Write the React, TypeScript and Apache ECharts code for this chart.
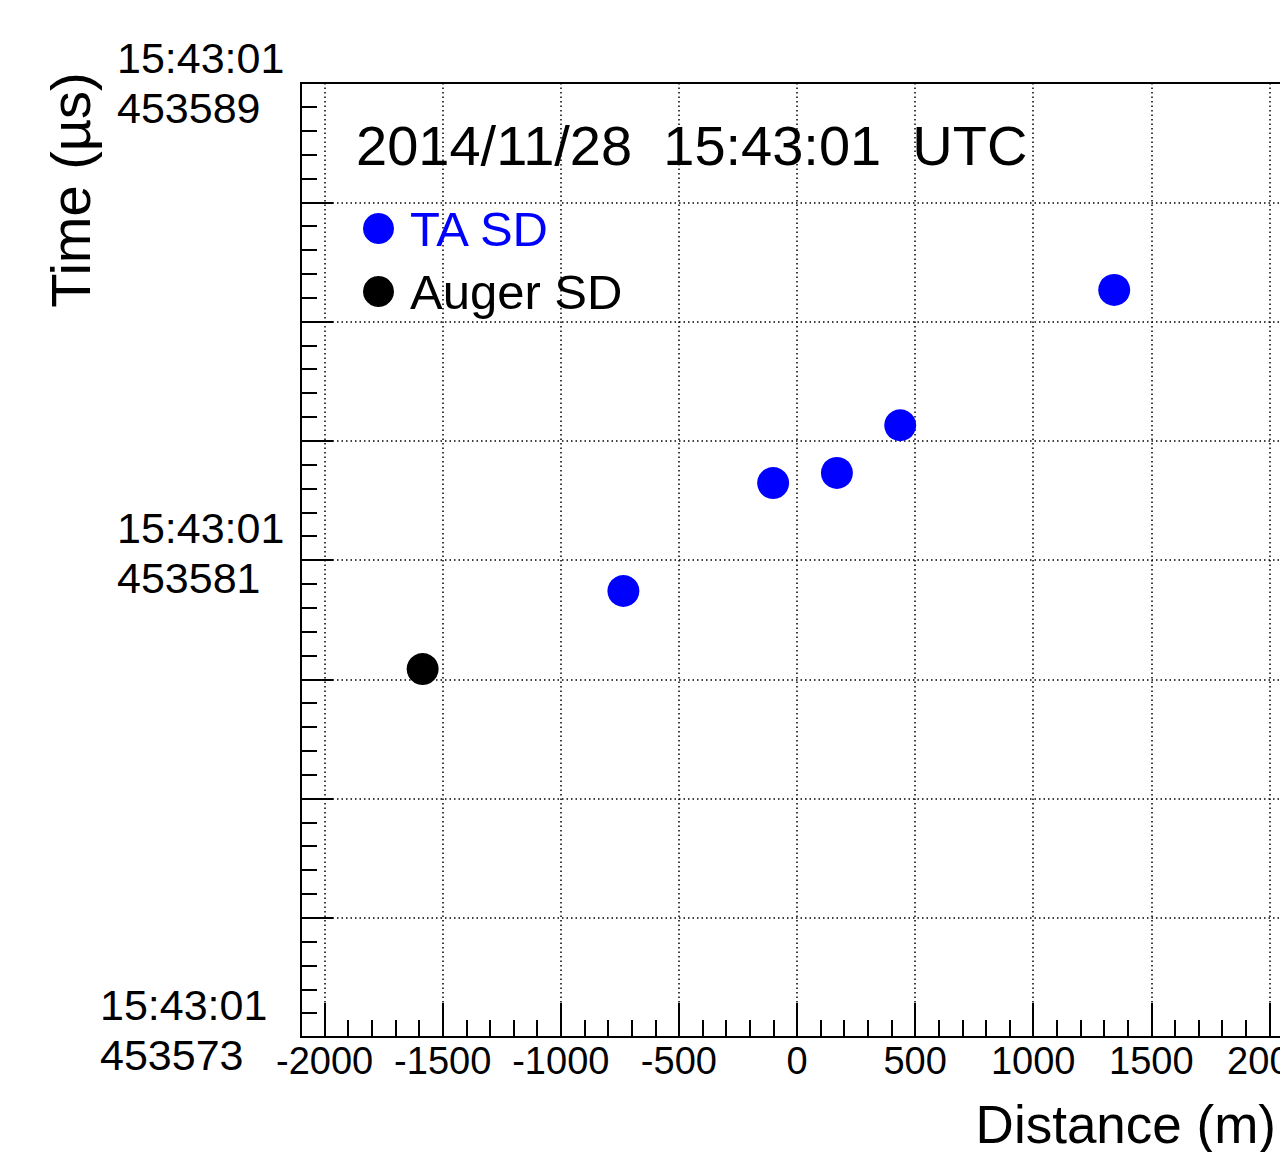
import React, { useEffect, useRef } from 'react';
import * as echarts from 'echarts';

const FONT = '"Liberation Sans", Arial, Helvetica, sans-serif';

const TITLE_TEXT = '2014/11/28  15:43:01  UTC';
const TIME_PREFIX = '15:43:01';
const X_TITLE = 'Distance (m)';
const Y_TITLE = 'Time (µs)';

const X_MIN = -2100;
const X_MAX = 2100;
const X_LABEL_STEP = 500;
const X_MINOR_STEP = 100;

const Y_MIN = 453573;
const Y_MAX = 453589;
const Y_STEP = 2;
const Y_LABEL_STEP = 8;

const SERIES_NAMES = ['TA SD', 'Auger SD'];
const taDistance = [-735, -101, 169, 437, 1343];
const taTime = [453580.48, 453582.29, 453582.46, 453583.26, 453585.53];
const augerDistance = [-1585];
const augerTime = [453579.17];

const tickStyle = { color: '#000', width: 2 };
const gridStyle = { color: '#000', width: 1.5, type: [1.5, 3] as number[] };

const CHART_W = 1300;
const CHART_H = 1152;

export default function App() {
  const ref = useRef<HTMLDivElement>(null);

  useEffect(() => {
    if (!ref.current) return;
    const chart = echarts.init(ref.current, undefined, { renderer: 'svg' });
    const labelFont = { fontFamily: FONT, fontSize: 43, lineHeight: 50, color: '#000', align: 'left' };
    const option: any = {
      animation: false,
      backgroundColor: '#ffffff',
      title: {
        text: TITLE_TEXT,
        left: 356,
        top: 117,
        padding: 0,
        textStyle: { fontFamily: FONT, fontSize: 56, fontWeight: 'normal', color: '#000', lineHeight: 56 },
      },
      legend: {
        orient: 'vertical',
        left: 363,
        top: 204,
        padding: 0,
        itemWidth: 31,
        itemHeight: 31,
        itemGap: 14,
        icon: 'circle',
        selectedMode: false,
        itemStyle: { opacity: 1 },
        textStyle: { fontFamily: FONT, fontSize: 49, lineHeight: 46, padding: [0, 0, 0, 11], color: '#000' },
        data: [
          { name: SERIES_NAMES[0], textStyle: { color: '#0000ff' } },
          { name: SERIES_NAMES[1], textStyle: { color: '#000000' } },
        ],
      },
      grid: {
        left: 301,
        top: 83,
        width: 992,
        height: 954,
        outerBoundsMode: 'none',
        containLabel: false,
        show: true,
        borderColor: '#000',
        borderWidth: 2,
        backgroundColor: 'transparent',
      },
      xAxis: [
        {
          type: 'value',
          position: 'bottom',
          min: X_MIN,
          max: X_MAX,
          splitNumber: 8,
          axisLine: { show: true, onZero: false, lineStyle: tickStyle },
          axisTick: { show: true, inside: true, length: 34, lineStyle: tickStyle },
          axisLabel: {
            margin: 5,
            color: '#000',
            fontFamily: FONT,
            fontSize: 38,
            lineHeight: 38,
            formatter: (v: number) => (Math.round(v) % X_LABEL_STEP === 0 ? String(Math.round(v)) : ''),
          },
          splitLine: { show: true, lineStyle: gridStyle },
        },
        {
          type: 'value',
          position: 'bottom',
          min: X_MIN,
          max: X_MAX,
          interval: X_MINOR_STEP,
          axisLine: { show: false, onZero: false },
          axisTick: { show: true, inside: true, length: 17, lineStyle: tickStyle },
          axisLabel: { show: false },
          splitLine: { show: false },
        },
      ],
      yAxis: {
        type: 'value',
        min: Y_MIN,
        max: Y_MAX,
        interval: Y_STEP,
        axisLine: { show: true, onZero: false, lineStyle: tickStyle },
        axisTick: { show: true, inside: true, length: 32, lineStyle: tickStyle },
        minorTick: { show: true, splitNumber: 5, length: 16, lineStyle: tickStyle },
        axisLabel: {
          align: 'right',
          margin: 14,
          color: '#000',
          formatter: (v: number) => {
            const d = Math.round(v - Y_MIN);
            if (d % Y_LABEL_STEP !== 0) return '';
            const top = Math.round(Y_MAX - Y_MIN);
            const s = d === 0 ? 'b' : 'a';
            const base = `{${s}|${TIME_PREFIX}}\n{${s}|${Math.round(v)}}`;
            return d === top ? base : `${base}\n{sp| }`;
          },
          rich: {
            a: { ...labelFont, width: 170 },
            b: { ...labelFont, width: 187 },
            sp: { fontFamily: FONT, fontSize: 8, lineHeight: 14, width: 170 },
          },
        },
        splitLine: { show: true, lineStyle: gridStyle },
      },
      series: [
        {
          type: 'scatter',
          name: SERIES_NAMES[0],
          symbol: 'circle',
          symbolSize: 32,
          itemStyle: { color: '#0000ff', opacity: 1 },
          data: taDistance.map((x, i) => [x, taTime[i]]),
        },
        {
          type: 'scatter',
          name: SERIES_NAMES[1],
          symbol: 'circle',
          symbolSize: 32,
          itemStyle: { color: '#000000', opacity: 1 },
          data: augerDistance.map((x, i) => [x, augerTime[i]]),
        },
      ],
      graphic: [
        {
          type: 'text',
          x: 70,
          y: 190,
          rotation: Math.PI / 2,
          style: { text: Y_TITLE, fontFamily: FONT, fontSize: 56, fill: '#000', align: 'center', verticalAlign: 'middle' },
        },
        {
          type: 'text',
          x: 1276,
          y: 1124,
          style: { text: X_TITLE, fontFamily: FONT, fontSize: 53, fill: '#000', align: 'right', verticalAlign: 'middle' },
        },
      ],
    };
    chart.setOption(option);
    return () => chart.dispose();
  }, []);

  return (
    <div style={{ position: 'absolute', left: 0, top: 0, width: 1280, height: 1152, overflow: 'hidden', background: '#fff' }}>
      <div ref={ref} style={{ width: CHART_W, height: CHART_H }} />
    </div>
  );
}
